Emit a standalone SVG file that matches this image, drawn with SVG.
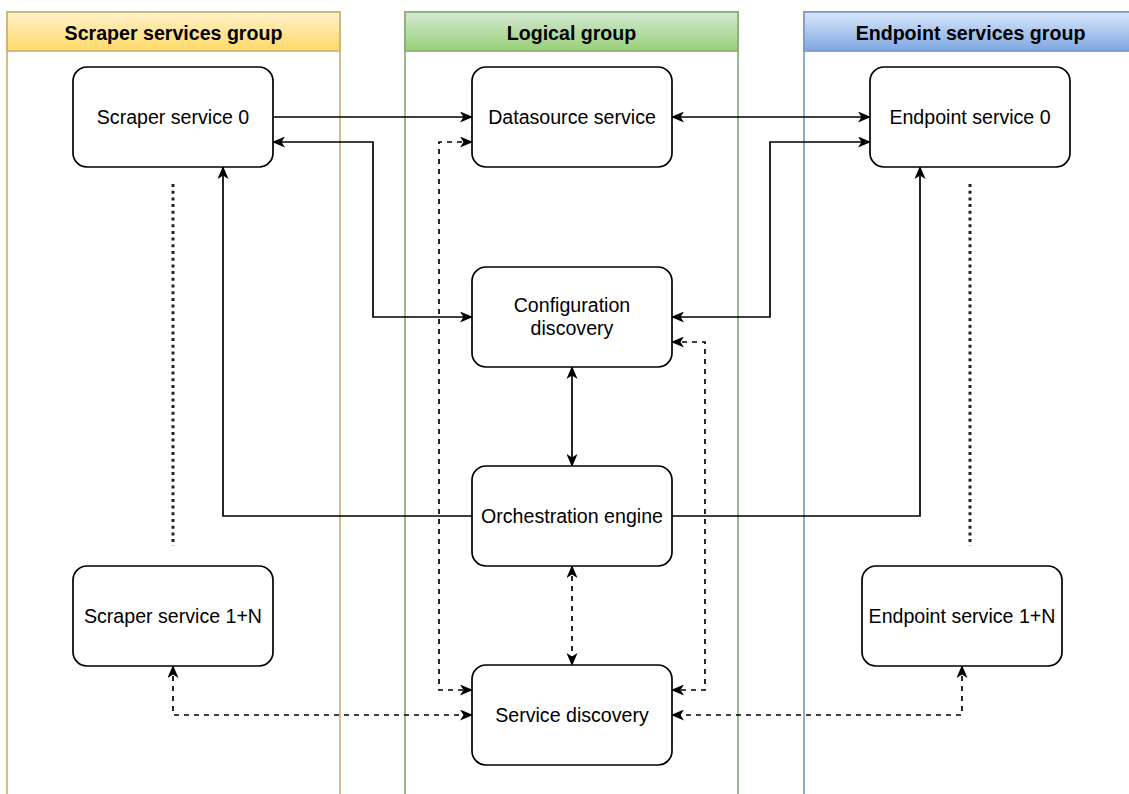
<svg xmlns="http://www.w3.org/2000/svg" width="1129" height="794" viewBox="0 0 1129 794">
  <defs>
    <linearGradient id="gYellow" x1="0" y1="0" x2="0" y2="1">
      <stop offset="0" stop-color="#fff2cc"/>
      <stop offset="1" stop-color="#ffd966"/>
    </linearGradient>
    <linearGradient id="gGreen" x1="0" y1="0" x2="0" y2="1">
      <stop offset="0" stop-color="#d5e8d4"/>
      <stop offset="1" stop-color="#97d077"/>
    </linearGradient>
    <linearGradient id="gBlue" x1="0" y1="0" x2="0" y2="1">
      <stop offset="0" stop-color="#dae8fc"/>
      <stop offset="1" stop-color="#7ea6e0"/>
    </linearGradient>
    <marker id="arrow" viewBox="0 0 13 11" refX="12" refY="5.5" markerWidth="13" markerHeight="11" markerUnits="userSpaceOnUse" orient="auto-start-reverse">
      <path d="M0,0 L13,5.5 L0,11 L3.5,5.5 Z" fill="#000"/>
    </marker>
    <style>
      .lane { fill: #ffffff; stroke-width: 1.7; }
      .head { stroke-width: 1.7; }
      .title { font-family: "Liberation Sans", Arial, sans-serif; font-size: 19.6px; font-weight: bold; fill: #000; text-anchor: middle; }
      .box { fill: #ffffff; stroke: #000; stroke-width: 1.7; }
      .label { font-family: "Liberation Sans", Arial, sans-serif; font-size: 19.6px; fill: #000; text-anchor: middle; }
      .edge { fill: none; stroke: #000; stroke-width: 1.7; }
      .both { marker-start: url(#arrow); marker-end: url(#arrow); }
      .end { marker-end: url(#arrow); }
      .dash { stroke-dasharray: 5 5; }
      .dots { fill: none; stroke: #222; stroke-width: 3; stroke-dasharray: 3 3.7; }
    </style>
  </defs>

  <!-- swimlanes -->
  <g id="lane-scraper">
    <rect class="lane" x="7" y="12" width="333" height="800" stroke="#c9b27a"/>
    <rect class="head" x="7" y="12" width="333" height="39" fill="url(#gYellow)" stroke="#c9b27a"/>
    <text class="title" x="173.5" y="40">Scraper services group</text>
  </g>
  <g id="lane-logical">
    <rect class="lane" x="405" y="12" width="333" height="800" stroke="#8aad7a"/>
    <rect class="head" x="405" y="12" width="333" height="39" fill="url(#gGreen)" stroke="#8aad7a"/>
    <text class="title" x="571.5" y="40">Logical group</text>
  </g>
  <g id="lane-endpoint">
    <rect class="lane" x="804" y="12" width="340" height="800" stroke="#7d9bc8"/>
    <rect class="head" x="804" y="12" width="340" height="39" fill="url(#gBlue)" stroke="#7d9bc8"/>
    <text class="title" x="970.5" y="40">Endpoint services group</text>
  </g>

  <!-- connectors -->
  <g id="connectors">
    <path class="edge end" d="M273,117 H472"/>
    <path class="edge both" d="M273,142 H373 V317 H472"/>
    <path class="edge both" d="M672,117 H870"/>
    <path class="edge both" d="M870,142 H770 V317 H672"/>
    <path class="edge end" d="M472,516 H223 V167"/>
    <path class="edge end" d="M672,516 H920 V167"/>
    <path class="edge both" d="M572,367 V466"/>
    <path class="edge dash both" d="M572,566 V665"/>
    <path class="edge dash both" d="M472,142 H439 V690 H472"/>
    <path class="edge dash both" d="M672,342 H705 V690 H672"/>
    <path class="edge dash both" d="M173,666 V715 H472"/>
    <path class="edge dash both" d="M962,666 V715 H672"/>
    <path class="dots" d="M173,184 V546"/>
    <path class="dots" d="M970,184 V546"/>
  </g>

  <!-- nodes -->
  <g id="scraper-0">
    <rect class="box" x="73" y="67" width="200" height="100" rx="14"/>
    <text class="label" x="173" y="124">Scraper service 0</text>
  </g>
  <g id="scraper-n">
    <rect class="box" x="73" y="566" width="200" height="100" rx="14"/>
    <text class="label" x="173" y="623">Scraper service 1+N</text>
  </g>
  <g id="datasource">
    <rect class="box" x="472" y="67" width="200" height="100" rx="14"/>
    <text class="label" x="572" y="124">Datasource service</text>
  </g>
  <g id="config-discovery">
    <rect class="box" x="472" y="267" width="200" height="100" rx="14"/>
    <text class="label" x="572" y="312">Configuration</text>
    <text class="label" x="572" y="335">discovery</text>
  </g>
  <g id="orchestration">
    <rect class="box" x="472" y="466" width="200" height="100" rx="14"/>
    <text class="label" x="572" y="523">Orchestration engine</text>
  </g>
  <g id="service-discovery">
    <rect class="box" x="472" y="665" width="200" height="100" rx="14"/>
    <text class="label" x="572" y="722">Service discovery</text>
  </g>
  <g id="endpoint-0">
    <rect class="box" x="870" y="67" width="200" height="100" rx="14"/>
    <text class="label" x="970" y="124">Endpoint service 0</text>
  </g>
  <g id="endpoint-n">
    <rect class="box" x="862" y="566" width="200" height="100" rx="14"/>
    <text class="label" x="962" y="623">Endpoint service 1+N</text>
  </g>
</svg>
